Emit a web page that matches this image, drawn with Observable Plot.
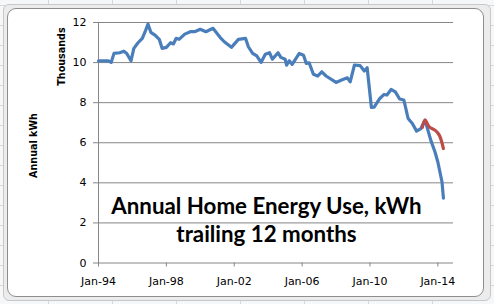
<!DOCTYPE html>
<html><head><meta charset="utf-8">
<script src="https://cdn.jsdelivr.net/npm/d3@7"></script>
<script src="https://cdn.jsdelivr.net/npm/@observablehq/plot@0.6"></script>
<style>
html,body{margin:0;padding:0;width:494px;height:304px;overflow:hidden;}
body{position:relative;background-color:#f6f7f8;
 background-image:linear-gradient(to right,#d6d9dc 1px,transparent 1px),linear-gradient(to bottom,#d6d9dc 1px,transparent 1px);
 background-size:64px 20px;background-position:48px 5px;}
#sel{position:absolute;left:3px;top:4px;width:488px;height:297px;box-sizing:border-box;border:1px solid #c8c8c8;background:#ececec;border-radius:6px;}
#box{position:absolute;left:7px;top:8px;width:477px;height:289px;box-sizing:border-box;border:1px solid #8e8e8e;border-radius:9px;background:#fff;}
#chart{position:absolute;left:7px;top:8px;}
</style></head>
<body><div id="sel"></div><div id="box"></div><div id="chart"></div>
<script>
// Blue series: annual kWh (thousands), trailing 12 months
const blueDates = ["1994-01","1994-08","1994-10","1994-12","1995-04","1995-07","1995-09","1995-12","1996-02","1996-05","1996-08","1996-10","1996-12",
 "1997-02","1997-05","1997-08","1997-10","1998-01","1998-04","1998-06","1998-08","1998-10","1999-02","1999-06","1999-09","2000-01","2000-05","2000-10",
 "2001-03","2001-06","2001-11","2002-04","2002-09","2002-11","2003-02","2003-05","2003-08","2003-11","2004-02","2004-04","2004-08","2004-10",
 "2005-01","2005-02","2005-04","2005-06","2005-11","2006-02","2006-04","2006-06","2006-09","2006-12","2007-03","2007-06","2008-01","2008-05",
 "2008-09","2008-11","2009-02","2009-06","2009-09","2009-11","2010-02","2010-04","2010-08","2010-11","2011-01","2011-04","2011-07","2011-10",
 "2012-01","2012-04","2012-07","2012-10","2013-01","2013-04","2013-06","2013-08","2013-11","2014-01","2014-04","2014-05"];
const blueValues = [10.09,10.09,10.01,10.46,10.49,10.57,10.45,10.09,10.71,10.99,11.21,11.54,11.92,
 11.51,11.37,11.16,10.71,10.76,10.99,10.93,11.21,11.16,11.42,11.54,11.54,11.66,11.54,11.71,
 11.26,11.04,10.76,11.16,11.21,10.79,10.46,10.33,10.01,10.41,10.49,10.17,10.49,10.26,
 10.17,9.87,10.09,9.91,10.46,10.37,9.96,9.99,9.42,9.33,9.54,9.33,9.01,9.13,
 9.24,9.04,9.88,9.85,9.58,9.74,7.76,7.78,8.21,8.41,8.38,8.66,8.54,8.18,
 8.13,7.21,6.96,6.58,6.71,7.13,6.63,6.13,5.54,5.04,4.04,3.24];
// Red series
const redDates = ["2013-02","2013-04","2013-07","2013-11","2014-02","2014-05"];
const redValues = [6.76,7.13,6.79,6.63,6.38,5.71];
// Axes
const xTicks = ["1994-01","1998-01","2002-01","2006-01","2010-01","2014-01"];
const yTicks = [0,2,4,6,8,10,12];
const xDomain = ["1994-01","2014-12"];
const titleLines = ["Annual Home Energy Use, kWh","trailing 12 months"];

const parse = d3.utcParse("%Y-%m");
const blue = blueDates.map((d,i)=>({date:parse(d), value:blueValues[i]}));
const red = redDates.map((d,i)=>({date:parse(d), value:redValues[i]}));
const dom = xDomain.map(parse); dom[1] = d3.utcDay.offset(dom[1], 3);
const grey = "#868686";
const font = "'DejaVu Sans', Verdana, sans-serif";

const chart = Plot.plot({
  width: 477, height: 289,
  marginLeft: 91, marginRight: 31, marginTop: 14, marginBottom: 34.5,
  style: {fontFamily: font, fontSize: "11px", color: "#000", background: "transparent", overflow: "visible"},
  x: {type: "utc", domain: dom},
  y: {domain: [0, 12]},
  marks: [
    Plot.gridY(yTicks, {stroke: grey, strokeOpacity: 1}),
    Plot.frame({anchor: "left", stroke: grey}),
    Plot.axisY({ticks: yTicks, tickSize: 5, tickPadding: 7, stroke: grey, label: null, fill: "#000", fontFamily: font, fontSize: 11}),
    Plot.axisX({ticks: xTicks.map(parse), tickSize: 4, tickPadding: 10.5, stroke: grey, tickFormat: d3.utcFormat("%b-%y"), label: null, fill: "#000", fontFamily: font, fontSize: 11}),
    Plot.line(blue, {x: "date", y: "value", stroke: "#4a7ebb", strokeWidth: 3.2, strokeLinejoin: "round", strokeLinecap: "round"}),
    Plot.line(red, {x: "date", y: "value", stroke: "#be4b48", strokeWidth: 3.2, curve: "catmull-rom", strokeLinecap: "round"}),
    Plot.text([titleLines.join("\n")], {frameAnchor: "middle", lineAnchor: "top", dx: -9.5, dy: 51, fontSize: 22.3, fontWeight: "bold", lineHeight: 1.27, fontFamily: "Lato, 'Open Sans', sans-serif", fill: "#000"}),
    Plot.text(["Thousands"], {frameAnchor: "top-left", textAnchor: "middle", lineAnchor: "middle", rotate: -90, dx: -36.3, dy: 34, fontSize: 9.6, fontWeight: "bold", fontFamily: font, fill: "#000"}),
    Plot.text(["Annual kWh"], {frameAnchor: "top-left", textAnchor: "middle", lineAnchor: "middle", rotate: -90, dx: -64.7, dy: 123, fontSize: 9.6, fontWeight: "bold", fontFamily: font, fill: "#000"})
  ]
});
document.getElementById("chart").appendChild(chart);
</script></body></html>
